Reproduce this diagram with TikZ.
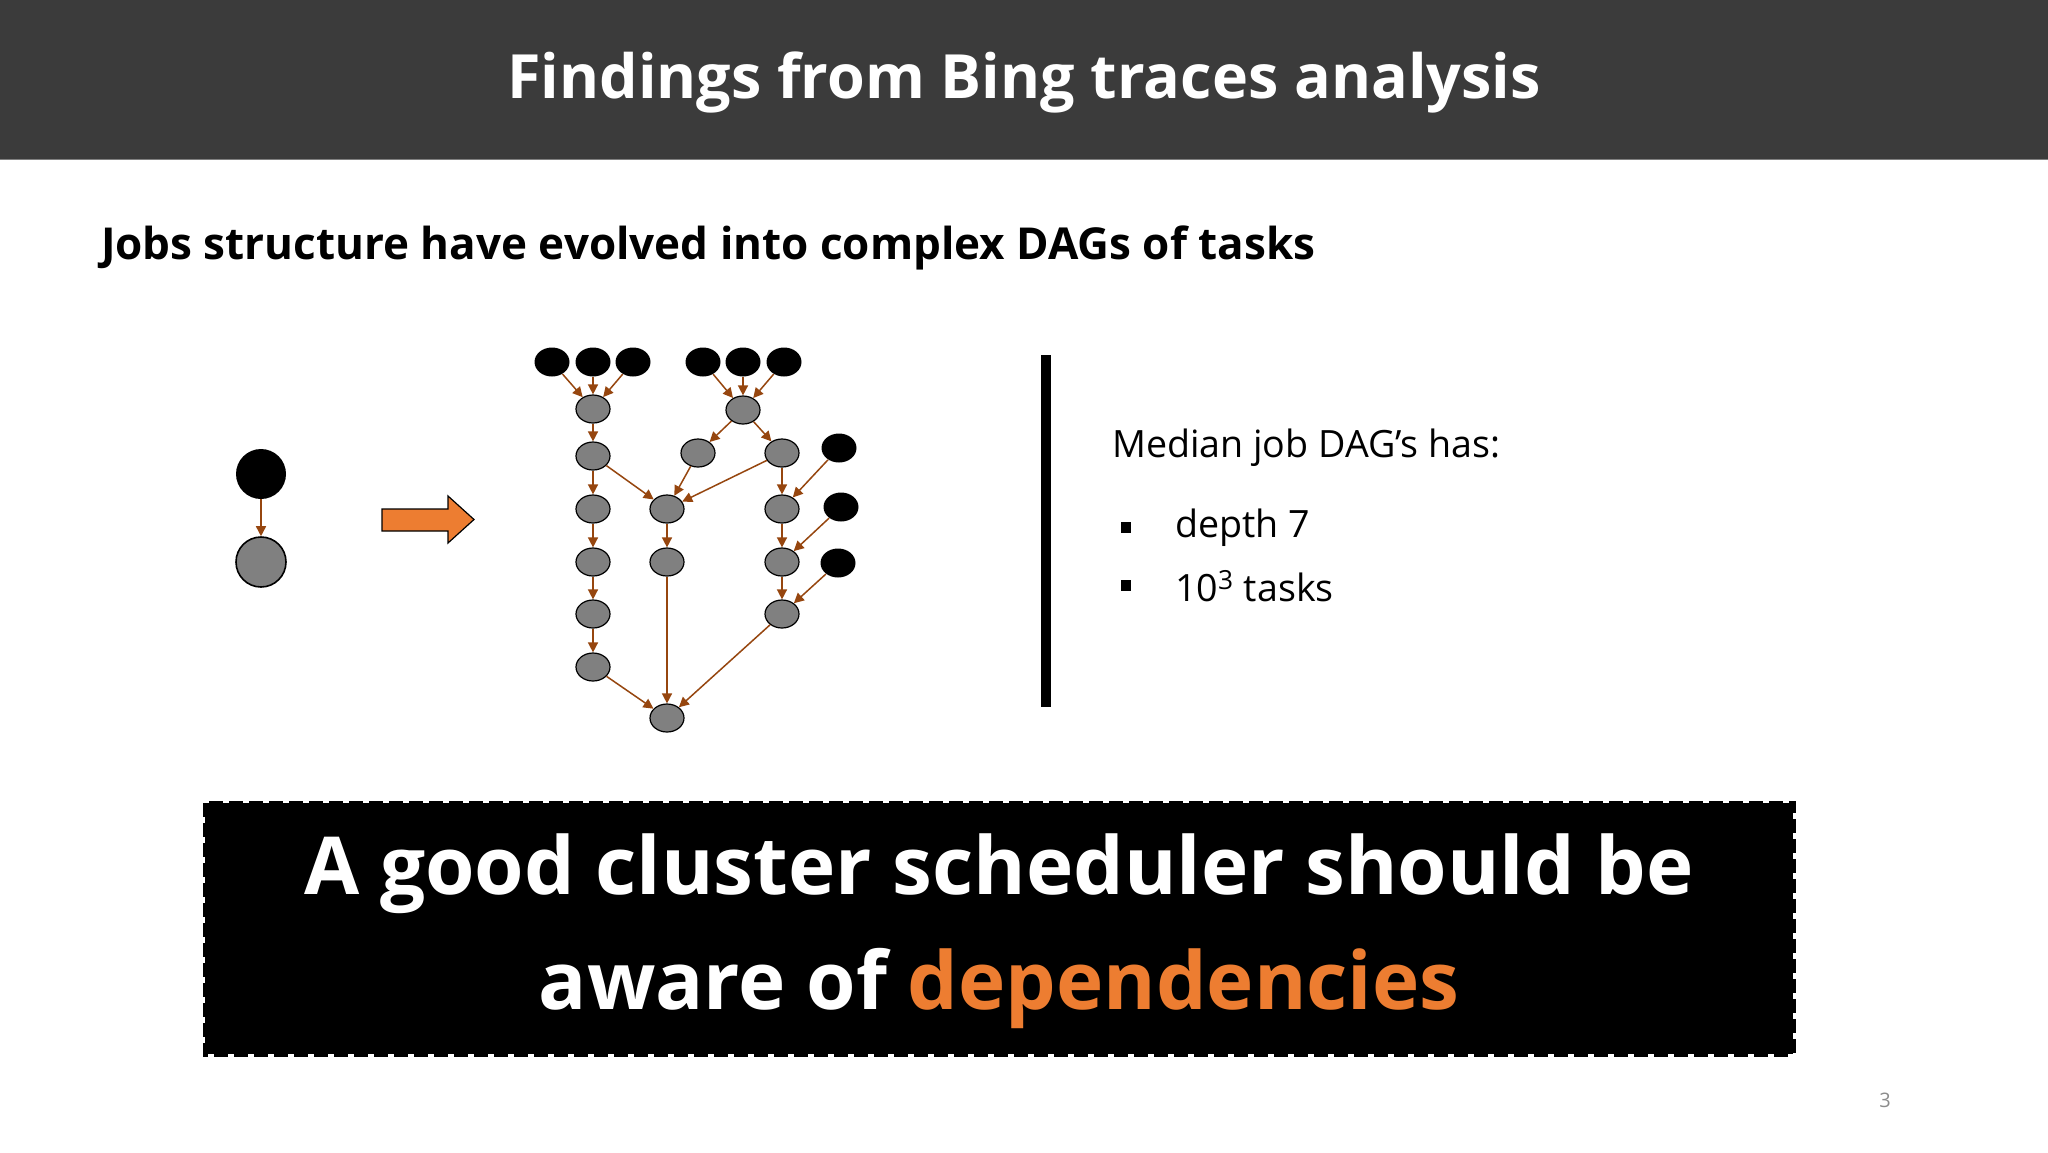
\documentclass[tikz,border=0pt]{standalone}
\usepackage{fontspec}
\setmainfont{Open Sans}
\usetikzlibrary{arrows.meta,shapes.geometric}
\definecolor{brn}{HTML}{96460F}
\definecolor{org}{HTML}{ED7D31}
\begin{document}
\begin{tikzpicture}[x=0.5pt,y=-0.5pt,
  blk/.style={ellipse,fill=black,minimum width=17.5pt,minimum height=14.5pt,inner sep=0pt},
  gry/.style={ellipse,draw=black,line width=0.6pt,fill=black!50,minimum width=17pt,minimum height=14pt,inner sep=0pt},
  ed/.style={draw=brn,line width=0.75pt,-{Triangle[length=5pt,width=5pt]}},
  every node/.style={font=\fontsize{8}{10}\selectfont}]
\useasboundingbox (0,0) rectangle (2048,1152);
\fill[white] (0,0) rectangle (2048,1152);
\fill[black!77] (0,0) rectangle (2048,159);
\draw[black!50,line width=0.5pt] (0,159) -- (2048,159);
\node[text=white,font=\fontsize{30.5}{36}\selectfont\bfseries] (title) at (1024,82) {Findings from Bing traces analysis};
\node[anchor=west,font=\fontsize{22}{26}\selectfont\bfseries] (sub) at (94,248) {Jobs structure have evolved into complex DAGs of tasks};
% single
\node[circle,fill=black,minimum size=25pt,inner sep=0pt] (s1) at (261,474) {};
\node[circle,draw=black,line width=0.8pt,fill=black!50,minimum size=25pt,inner sep=0pt] (s2) at (261,562) {};
\draw[ed] (s1) -- (s2);
% orange arrow
\draw[fill=org,draw=black,line width=0.6pt] (382,509) -- (448,509) -- (448,496) -- (474,519.5) -- (448,543) -- (448,531) -- (382,531) -- cycle;
% DAG
\foreach \n/\x in {t1/552,t2/593,t3/633,t4/703,t5/743,t6/784} \node[blk] (\n) at (\x,362) {};
\node[blk] (k1) at (839,448) {};
\node[blk] (k2) at (841,507) {};
\node[blk] (k3) at (838,563) {};
\foreach \n/\y in {l1/409,l2/456,l3/509,l4/562,l5/614,l6/667} \node[gry] (\n) at (593,\y) {};
\node[gry] (rt) at (743,410) {};
\node[gry] (a) at (698,453) {};
\node[gry] (b) at (782,453) {};
\node[gry] (m1) at (667,509) {};
\node[gry] (m2) at (667,562) {};
\node[gry] (r1) at (782,509) {};
\node[gry] (r2) at (782,562) {};
\node[gry] (r3) at (782,614) {};
\node[gry] (bot) at (667,718) {};
\foreach \s in {t1,t2,t3} \draw[ed] (\s) -- (l1);
\foreach \s in {t4,t5,t6} \draw[ed] (\s) -- (rt);
\draw[ed] (l1)--(l2); \draw[ed] (l2)--(l3); \draw[ed] (l3)--(l4); \draw[ed] (l4)--(l5); \draw[ed] (l5)--(l6);
\draw[ed] (rt)--(a); \draw[ed] (rt)--(b);
\draw[ed] (l2)--(m1); \draw[ed] (a)--(m1); \draw[ed] (b)--(m1); \draw[ed] (m1)--(m2);
\draw[ed] (b)--(r1); \draw[ed] (r1)--(r2); \draw[ed] (r2)--(r3);
\draw[ed] (k1)--(r1); \draw[ed] (k2)--(r2); \draw[ed] (k3)--(r3);
\draw[ed] (l6)--(bot); \draw[ed] (m2)--(bot); \draw[ed] (r3)--(bot);
% bar
\fill[black] (1041,355) rectangle (1051,707);
\node[anchor=west,font=\fontsize{18.8}{22}\selectfont] (med) at (1105,448) {Median job DAG’s has:};
\fill (1121,522) rectangle (1131,533);
\fill (1121,580) rectangle (1131,591);
\node[anchor=west,font=\fontsize{18.8}{22}\selectfont] (d7) at (1168,528) {depth 7};
\node[anchor=west,font=\fontsize{18.8}{22}\selectfont] (tk) at (1168,586) {10\textsuperscript{3} tasks};
% box
\fill[black] (205,803) rectangle (1793,1054);
\draw[black,line width=2.5pt,dash pattern=on 7pt off 3pt] (205,803) rectangle (1793,1054);
\node[text=white,font=\fontsize{40}{46}\selectfont\bfseries] (l1t) at (999,874) {A good cluster scheduler should be};
\node[text=white,font=\fontsize{40}{46}\selectfont\bfseries] (l2t) at (999,988) {aware of \textcolor{org}{dependencies}};
\node[text=black!45,font=\fontsize{10}{12}\selectfont] (pg) at (1885,1100) {3};
\end{tikzpicture}
\end{document}
